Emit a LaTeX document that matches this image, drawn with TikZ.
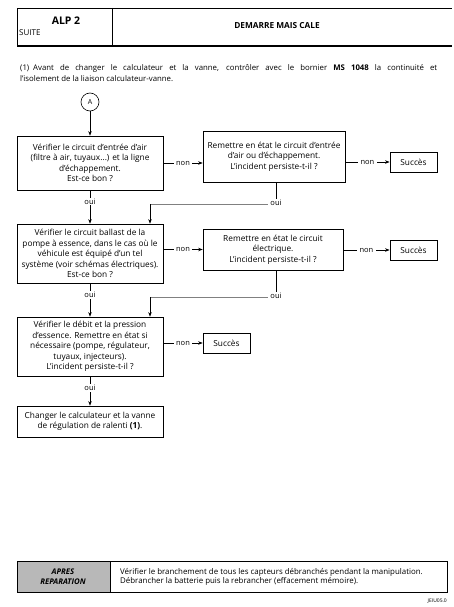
\documentclass[tikz,border=0pt]{standalone}
\usepackage{fontspec}
\setmainfont{Open Sans}
\usetikzlibrary{arrows.meta,calc}
\begin{document}
\begin{tikzpicture}[x=1pt,y=-1pt,
  box/.style={draw, line width=0.7pt, align=center, inner sep=0pt, font=\fontsize{8.3}{10.4}\selectfont},
  lbl/.style={fill=white, inner xsep=2.5pt, inner ysep=1pt, font=\fontsize{7.5}{9}\selectfont},
  arr/.style={-{Stealth[length=4.5pt,width=3.5pt]}, line width=0.6pt},
  ln/.style={line width=0.6pt},
  gl/.style={line width=0.6pt, black!50}]
\useasboundingbox (0,0) rectangle (454,607);

% header
\draw[line width=0.6pt] (17,46) -- (17,8) -- (452,8);
\draw[line width=1.4pt] (17,46) -- (452,46);
\draw[line width=0.6pt] (112,8) -- (112,46);
\node[font=\bfseries\fontsize{10.5}{12}\selectfont] (alp) at (66,21) {ALP 2};
\node[font=\fontsize{8}{9}\selectfont, anchor=west, inner sep=0pt] (suite) at (19,33) {SUITE};
\node[font=\bfseries\fontsize{8.3}{11}\selectfont] (titre) at (277,26) {DEMARRE MAIS CALE};

% note
\node[anchor=north west, inner sep=0pt, font=\fontsize{7.8}{11}\selectfont, text width=417pt, align=justify] (note) at (20,64)
{\hangindent=13pt\hangafter=1\makebox[13pt][l]{(1)}Avant de changer le calculateur et la vanne, contrôler avec le bornier \textbf{MS 1048} la continuité et\linebreak l'isolement de la liaison calculateur-vanne.};

% flowchart
\node[draw, circle, minimum size=18pt, inner sep=0pt, font=\fontsize{7}{8}\selectfont, line width=0.6pt] (A) at (90,102) {A};

\node[box, minimum width=146pt, minimum height=54pt] (b1) at (90,163)
{Vérifier le circuit d'entrée d'air\\(filtre à air, tuyaux...) et la ligne\\d'échappement.\\Est-ce bon ?};
\node[box, minimum width=142pt, minimum height=51pt] (b2) at (274,156.5)
{Remettre en état le circuit d'entrée\\d'air ou d'échappement.\\L'incident persiste-t-il ?};
\node[box, minimum width=47pt, minimum height=20pt, line width=0.9pt] (s1) at (413.5,162) {Succès};

\node[box, minimum width=146pt, minimum height=59pt] (b4) at (90,253.5)
{Vérifier le circuit ballast de la\\pompe à essence, dans le cas où le\\véhicule est équipé d'un tel\\système (voir schémas électriques).\\Est-ce bon ?};
\node[box, minimum width=140pt, minimum height=41pt] (b5) at (273,249.5)
{Remettre en état le circuit\\électrique.\\L'incident persiste-t-il ?};
\node[box, minimum width=47pt, minimum height=20pt, line width=0.9pt] (s2) at (413.5,250) {Succès};

\node[box, minimum width=146pt, minimum height=59pt] (b7) at (90,346.5)
{Vérifier le débit et la pression\\d'essence. Remettre en état si\\nécessaire (pompe, régulateur,\\tuyaux, injecteurs).\\L'incident persiste-t-il ?};
\node[box, minimum width=47pt, minimum height=20pt] (s3) at (226.5,343) {Succès};

\node[box, minimum width=146pt, minimum height=31pt] (b9) at (90,421.5)
{Changer le calculateur et la vanne\\de régulation de ralenti \textbf{(1)}.};

% connectors
\draw[arr] (A.south) -- (b1.north);
\draw[arr] (b1.east) -- node[lbl]{non} (b1.east -| b2.west);
\draw[arr] (s1.west -| b2.east) -- node[lbl]{non} (s1.west);
\draw[arr] (b1.south) -- node[lbl,pos=0.33]{oui} (b1.south |- b4.north);
\node[lbl] (o2) at (276,203) {oui};
\draw[ln] (b2.south -| o2.north) -- (o2.north);
\coordinate (m1) at (150,204);
\draw[gl] (o2.west |- m1) -- (m1);
\draw[arr] (m1) -- (m1 |- b4.north);

\draw[arr] (b5.west -| b4.east) -- node[lbl]{non} (b5.west);
\draw[arr] (s2.west -| b5.east) -- node[lbl]{non} (s2.west);
\draw[arr] (b4.south) -- node[lbl,pos=0.35]{oui} (b4.south |- b7.north);
\node[lbl] (o5) at (276,296) {oui};
\draw[ln] (b5.south -| o5.north) -- (o5.north);
\coordinate (m2) at (150,297);
\draw[gl] (o5.west |- m2) -- (m2);
\draw[arr] (m2) -- (m2 |- b7.north);

\draw[arr] (s3.west -| b7.east) -- node[lbl]{non} (s3.west);
\draw[arr] (b7.south) -- node[lbl,pos=0.4]{oui} (b7.south |- b9.north);

% apres reparation
\fill[black!28] (17,561) rectangle (110,592);
\draw[line width=0.8pt] (17,561) rectangle (447,592);
\draw[line width=0.6pt] (110,561) -- (110,592);
\node[align=center, inner sep=0pt, font=\bfseries\itshape\fontsize{7.8}{9.5}\selectfont] (apr) at (63,576.5) {APRES\\REPARATION};
\node[anchor=west, align=left, inner sep=0pt, font=\fontsize{7.9}{9.5}\selectfont] (aprt) at (120,577)
{Vérifier le branchement de tous les capteurs débranchés pendant la manipulation.\\Débrancher la batterie puis la rebrancher (effacement mémoire).};
\node[anchor=east, inner sep=0pt, font=\fontsize{5}{6}\selectfont] (code) at (447,601) {JEIU05.0};
\end{tikzpicture}
\end{document}
